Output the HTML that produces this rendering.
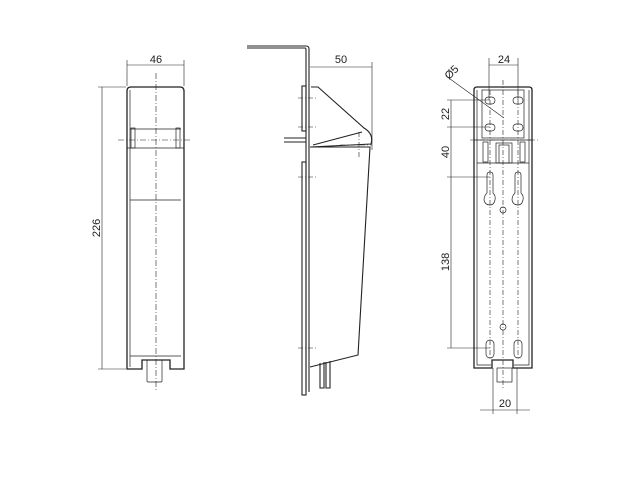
<!DOCTYPE html>
<html><head><style>html,body{margin:0;padding:0;background:#fff;overflow:hidden}svg{display:block}</style></head>
<body>
<svg width="640" height="480" viewBox="0 0 640 480" xmlns="http://www.w3.org/2000/svg" font-family="Liberation Sans, DejaVu Sans, sans-serif" fill="none" stroke="#222">
<!-- LEFT VIEW -->
<g stroke-width="0.6">
<line x1="127" y1="60" x2="127" y2="86"/><line x1="184" y1="60" x2="184" y2="86"/>
<line x1="127" y1="65" x2="184" y2="65"/>
<line x1="98" y1="87" x2="126" y2="87"/><line x1="98" y1="369" x2="126" y2="369"/>
<line x1="102" y1="87" x2="102" y2="369"/>
</g>
<g stroke-width="0.6" stroke-dasharray="6,2,1,2">
<line x1="156" y1="73" x2="156" y2="392"/>
<line x1="118" y1="140" x2="192" y2="140"/>
</g>
<g stroke-width="1.3">
<path d="M127,369 L127,91 Q127,87 131,87 L180,87 Q184,87 184,91 L184,369 L170,369 L170,360 L142,360 L142,369 Z"/>
</g>
<g stroke-width="0.7">
<line x1="130" y1="90" x2="130" y2="367"/>
<line x1="127" y1="148" x2="184" y2="148"/>
<line x1="130" y1="129" x2="181" y2="129"/>
<line x1="130" y1="200" x2="181" y2="200"/>
<line x1="130" y1="356" x2="181" y2="356"/>
<rect x="131" y="128" width="4" height="20"/><rect x="176" y="128" width="4" height="20"/>
<rect x="147" y="360" width="15" height="22" rx="1"/>
</g>
<!-- MIDDLE VIEW -->
<g stroke-width="1.1">
<path d="M247,46 L306,46 Q309,46 309,49 L309,392"/>
<path d="M247,48 L305,48 Q306,48 306,50 L306,392"/>
<path d="M284,138 L306,138 M284,142 L306,142"/>
<path d="M311,87 L318,87 L364,128 Q374,134 371,144 L310,147"/>
<path d="M313,145 L362,132"/>
<path d="M310,147 L370,147 L358,355 L310,367"/>
<rect x="302" y="86" width="4" height="45"/>
<rect x="302" y="162" width="4" height="233"/>
<path d="M320,363 L320,388 L324,388 L324,362 M326,362 L326,388 L330,388 L330,361"/>
</g>
<g stroke-width="0.6">
<line x1="310" y1="67" x2="372" y2="67"/>
<line x1="372" y1="62" x2="372" y2="150"/>
</g>
<g stroke-width="0.6" stroke-dasharray="5,2,1,2">
<line x1="298" y1="98" x2="318" y2="98"/><line x1="298" y1="127" x2="318" y2="127"/>
<line x1="298" y1="177" x2="318" y2="177"/><line x1="298" y1="348" x2="318" y2="348"/>
<line x1="340" y1="145" x2="372" y2="145"/><line x1="359" y1="132" x2="359" y2="158"/>
</g>
<!-- RIGHT VIEW -->
<g stroke-width="0.6">
<line x1="489" y1="58" x2="489" y2="100"/><line x1="518" y1="58" x2="518" y2="100"/>
<line x1="489" y1="65" x2="518" y2="65"/>
<line x1="493" y1="368" x2="493" y2="414"/><line x1="517" y1="368" x2="517" y2="414"/>
<line x1="480" y1="410" x2="530" y2="410"/>
<line x1="447" y1="100" x2="490" y2="100"/><line x1="447" y1="127" x2="490" y2="127"/>
<line x1="447" y1="177" x2="490" y2="177"/><line x1="447" y1="348" x2="490" y2="348"/>
<line x1="451" y1="100" x2="451" y2="348"/>
<line x1="446" y1="76" x2="504" y2="118"/>
</g>
<g stroke-width="1.3">
<path d="M474,368 L474,90 Q474,87 477,87 L529,87 Q532,87 532,90 L532,368 L513,368 L513,360 L492,360 L492,368 Z"/>
</g>
<g stroke-width="0.7">
<path d="M477,90 L477,365 L491,365 M529,90 L529,365 L514,365"/>
<rect x="482" y="90" width="42" height="48"/>
<line x1="474" y1="140" x2="532" y2="140"/>
<line x1="477" y1="163" x2="529" y2="163"/>
<rect x="496" y="143" width="16" height="20"/><rect x="499" y="145" width="10" height="18"/>
<rect x="483" y="142" width="5" height="20"/><rect x="520" y="142" width="5" height="20"/>
<rect x="497" y="368" width="15" height="14"/>
<rect x="485" y="97" width="10" height="7" rx="3.5"/><rect x="513" y="97" width="10" height="7" rx="3.5"/>
<rect x="485" y="124" width="10" height="7" rx="3.5"/><rect x="513" y="124" width="10" height="7" rx="3.5"/>
<path d="M487,175 Q487,172 490,172 Q493,172 493,175 L493,193 Q496,196 495,200 Q494,205 490,205 Q485,205 484,200 Q484,196 487,193 Z"/>
<path d="M515,175 Q515,172 518,172 Q521,172 521,175 L521,193 Q524,196 523,200 Q522,205 518,205 Q513,205 512,200 Q512,196 515,193 Z"/>
<circle cx="503" cy="210" r="3"/><circle cx="503" cy="327" r="3"/>
<rect x="486" y="340" width="8" height="18" rx="4"/><rect x="514" y="340" width="8" height="18" rx="4"/>
</g>
<g stroke-width="0.6" stroke-dasharray="5,2,1,2">
<line x1="503" y1="80" x2="503" y2="390"/>
<line x1="490" y1="90" x2="490" y2="360"/><line x1="518" y1="90" x2="518" y2="360"/>
<line x1="470" y1="140" x2="540" y2="140"/>
</g>
<!-- TEXT -->
<g fill="#222" stroke="none" font-size="11">
<text x="156" y="63" text-anchor="middle">46</text>
<text x="341" y="63" text-anchor="middle">50</text>
<text x="504" y="63" text-anchor="middle">24</text>
<text x="505" y="407" text-anchor="middle">20</text>
<text transform="translate(100,228) rotate(-90)" text-anchor="middle">226</text>
<text transform="translate(449,114) rotate(-90)" text-anchor="middle">22</text>
<text transform="translate(449,152) rotate(-90)" text-anchor="middle">40</text>
<text transform="translate(449,262) rotate(-90)" text-anchor="middle">138</text>
<text transform="translate(449,80) rotate(-45)">Ø5</text>
</g>
</svg>
</body></html>
